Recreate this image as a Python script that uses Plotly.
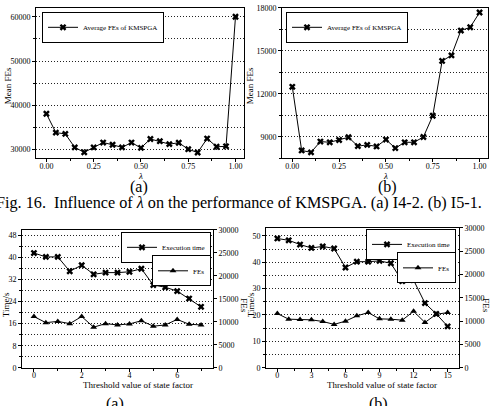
import plotly.graph_objects as go

W, H = 490, 406

# ---------------- data ----------------
lam = [0.00, 0.05, 0.10, 0.15, 0.20, 0.25, 0.30, 0.35, 0.40, 0.45, 0.50,
       0.55, 0.60, 0.65, 0.70, 0.75, 0.80, 0.85, 0.90, 0.95, 1.00]
fes_i42 = [38100, 33850, 33550, 30500, 29400, 30500, 31600, 31100, 30500, 31600, 30400,
           32400, 31900, 31250, 31550, 30100, 29350, 32500, 30650, 30750, 60000]
fes_i51 = [12500, 8060, 7930, 8680, 8630, 8790, 8980, 8360, 8450, 8340, 8820,
           8220, 8630, 8630, 9000, 10480, 14300, 14690, 16420, 16650, 17680]

thr_c = [0, 0.5, 1, 1.5, 2, 2.5, 3, 3.5, 4, 4.5, 5, 5.5, 6, 6.5, 7]
time_c = [41.6, 40.2, 40.2, 35.0, 37.2, 33.9, 34.5, 34.5, 34.8, 35.9, 30.0, 29.2, 27.8, 25.1, 22.1]
fes_c = [11140, 9810, 10090, 9600, 11140, 8830, 9600, 9320, 9530, 10230, 9040, 9320, 10510, 9460, 9320]

thr_d = list(range(16))
time_d = [49.0, 48.3, 46.7, 45.4, 46.0, 45.2, 38.0, 40.2, 40.2, 40.5, 39.6, 32.8, 33.2, 24.5, 20.4, 15.7]
fes_d = [11620, 10420, 10350, 10280, 9930, 9300, 10000, 11130, 11830, 10490, 10420, 10210, 12110, 9720, 11480, 11830]

lam_ticks = [0.00, 0.25, 0.50, 0.75, 1.00]

FONT = "Liberation Serif"


def px(x):
    return x / W


def py(y):
    return 1 - y / H


line = dict(color="black", width=1)
mk_x = dict(symbol="x", size=6, color="black")
mk_t = dict(symbol="triangle-up", size=6, color="black")

fig = go.Figure()
fig.add_trace(go.Scatter(x=lam, y=fes_i42, mode="lines+markers", line=line, marker=mk_x,
                         name="Average FEs of KMSPGA", xaxis="x", yaxis="y", legend="legend"))
fig.add_trace(go.Scatter(x=lam, y=fes_i51, mode="lines+markers", line=line, marker=mk_x,
                         name="Average FEs of KMSPGA", xaxis="x2", yaxis="y2", legend="legend2"))
fig.add_trace(go.Scatter(x=thr_c, y=time_c, mode="lines+markers", line=line, marker=mk_x,
                         name="Execution time", xaxis="x3", yaxis="y3", legend="legend3"))
fig.add_trace(go.Scatter(x=thr_c, y=fes_c, mode="lines+markers", line=line, marker=mk_t,
                         name="FEs", xaxis="x3", yaxis="y4", legend="legend4"))
fig.add_trace(go.Scatter(x=thr_d, y=time_d, mode="lines+markers", line=line, marker=mk_x,
                         name="Execution time", xaxis="x4", yaxis="y5", legend="legend5"))
fig.add_trace(go.Scatter(x=thr_d, y=fes_d, mode="lines+markers", line=line, marker=mk_t,
                         name="FEs", xaxis="x4", yaxis="y6", legend="legend6"))

tickfont = dict(family=FONT, size=8, color="black")
common = dict(showline=True, linecolor="black", linewidth=1, ticks="outside", ticklen=3,
              tickcolor="black", tickfont=tickfont, zeroline=False, mirror=True, color="black")
GRID = dict(gridcolor="#222", griddash="1px,2px", gridwidth=1)


def xax(dom, anchor, rng, minor_dt, tickvals=None, dtick=None, fmt=None):
    d = dict(common, domain=dom, anchor=anchor, range=rng, showgrid=False,
             ticklabelstandoff=-3,
             minor=dict(dtick=minor_dt, tick0=0, ticks="outside", ticklen=2,
                        tickcolor="black", showgrid=False))
    if tickvals is not None:
        d["tickvals"] = tickvals
    if dtick is not None:
        d["dtick"] = dtick
        d["tick0"] = 0
    if fmt:
        d["tickformat"] = fmt
    return d


def xtop(over, anchor, rng, dt):
    # inward ticks along the top frame edge
    return dict(overlaying=over, anchor=anchor, side="top", range=rng, dtick=dt, tick0=0,
                ticks="inside", ticklen=3, tickcolor="black", showticklabels=False,
                showline=False, showgrid=False, zeroline=False)


def yax(dom, anchor, rng, dtick, minor):
    return dict(common, domain=dom, anchor=anchor, range=rng, dtick=dtick, tick0=0,
                tickformat="d", showgrid=True, **GRID,
                minor=dict(dtick=minor, tick0=0, showgrid=True, ticks="outside", ticklen=2,
                           tickcolor="black", **GRID))


def yright(over, anchor):
    return dict(common, overlaying=over, side="right", anchor=anchor, range=[0, 30000],
                dtick=5000, tick0=0, tickformat="d", showgrid=False, mirror=False)


domA = [px(36), px(244)]
domB = [px(282), px(488)]
domC = [px(22), px(213)]
domD = [px(266), px(459)]
top_y = [py(158), py(4)]
botC_y = [py(372), py(231)]
botD_y = [py(372), py(229)]

rngL = [-0.055, 1.045]
rngC = [-0.5, 7.5]
rngD = [-1, 16]

legend_common = dict(font=dict(family=FONT, size=7, color="black"), bgcolor="white",
                     bordercolor="black", borderwidth=1, yanchor="top",
                     itemwidth=30, tracegroupgap=0)

fig.update_layout(
    width=W, height=H, margin=dict(l=0, r=0, t=0, b=0),
    paper_bgcolor="white", plot_bgcolor="white",
    font=dict(family=FONT, color="black"),
    xaxis=xax(domA, "y", rngL, 0.125, tickvals=lam_ticks, fmt=".2f"),
    yaxis=yax(top_y, "x", [28000, 62000], 10000, 5000),
    xaxis2=xax(domB, "y2", rngL, 0.125, tickvals=lam_ticks, fmt=".2f"),
    yaxis2=yax(top_y, "x2", [7500, 18000], 3000, 1500),
    xaxis3=xax(domC, "y3", rngC, 1, dtick=2),
    yaxis3=yax(botC_y, "x3", [0, 50], 8, 4),
    yaxis4=yright("y3", "x3"),
    xaxis4=xax(domD, "y5", rngD, 1.5, dtick=3),
    yaxis5=yax(botD_y, "x4", [0, 53], 10, 5),
    yaxis6=yright("y5", "x4"),
    xaxis5=xtop("x", "y", rngL, 0.125),
    xaxis6=xtop("x2", "y2", rngL, 0.125),
    xaxis7=xtop("x3", "y3", rngC, 1),
    xaxis8=xtop("x4", "y5", rngD, 1.5),
    legend=dict(legend_common, x=px(42), y=py(8), xanchor="left"),
    legend2=dict(legend_common, x=px(286), y=py(8), xanchor="left"),
    legend3=dict(legend_common, x=px(211), y=py(233), xanchor="right"),
    legend4=dict(legend_common, x=px(211), y=py(257), xanchor="right"),
    legend5=dict(legend_common, x=px(456), y=py(230), xanchor="right"),
    legend6=dict(legend_common, x=px(456), y=py(254), xanchor="right"),
    showlegend=True,
)


def note(text, x, y, size=9, angle=0, yanchor="middle"):
    fig.add_annotation(text=text, x=px(x), y=py(y), xref="paper", yref="paper",
                       showarrow=False, textangle=angle, xanchor="center", yanchor=yanchor,
                       font=dict(family=FONT, size=size, color="black"))


# axis titles
note("Mean FEs", 8, 84, angle=-90)
note("<i>λ</i>", 140, 176)
note("Mean FEs", 250, 84, angle=-90)
note("<i>λ</i>", 385, 176)
note("Time/s", 6, 308, angle=-90)
note("FEs", 244, 308, angle=90)
note("Threshold value of state factor", 138, 390)
note("Time/s", 251, 308, angle=-90)
note("FEs", 486, 308, angle=90)
note("Threshold value of state factor", 382, 390)

# captions
note("(a)", 139, 187, size=16)
note("(b)", 387, 187, size=16)
note("Fig. 16.  Influence of <i>λ</i> on the performance of KMSPGA. (a) I4-2. (b) I5-1.",
     239, 203.5, size=16.2)
note("(a)", 115, 398, size=16, yanchor="top")
note("(b)", 378, 398, size=16, yanchor="top")

fig.write_html("out.html")
